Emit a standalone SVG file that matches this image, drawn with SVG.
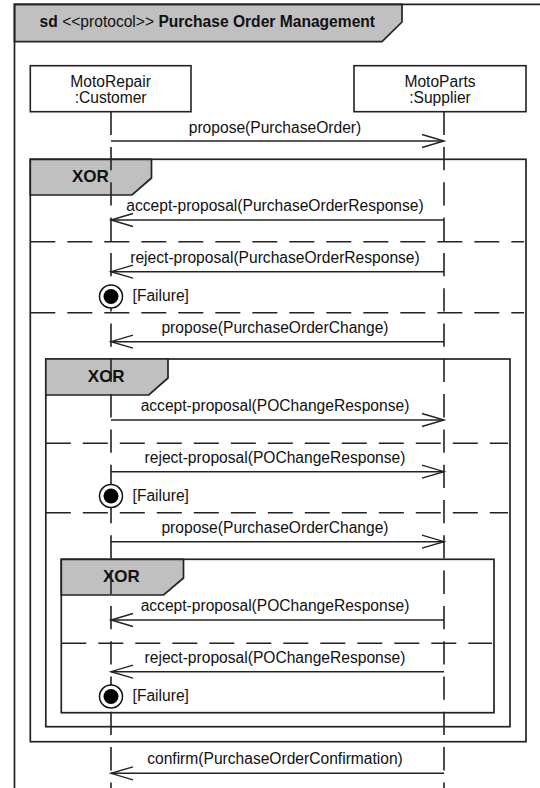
<svg xmlns="http://www.w3.org/2000/svg" width="540" height="788" viewBox="0 0 540 788">
<style>
  .frame{fill:none;stroke:#222;stroke-width:1.7}
  .tab{fill:#c0c0c0;stroke:#222;stroke-width:1.7}
  .box{fill:#fff;stroke:#222;stroke-width:1.6}
  .sep{fill:none;stroke:#222;stroke-width:1.6;stroke-dasharray:25 12}
  .life{fill:none;stroke:#222;stroke-width:1.6;stroke-dasharray:23.3 12}
  .msg{fill:none;stroke:#222;stroke-width:1.4;marker-end:url(#open)}
  .t{font-family:"Liberation Sans",Arial,sans-serif;font-size:15.6px;fill:#111}
  .c{text-anchor:middle}
  .xor{font-family:"Liberation Sans",Arial,sans-serif;font-size:17px;font-weight:bold;fill:#111}
  .b{font-weight:bold}
  .fo{fill:#fff;stroke:#111;stroke-width:1.5}
  .fi{fill:#000}
</style>
<defs>
  <marker id="open" markerWidth="24" markerHeight="16" refX="23" refY="8" orient="auto" markerUnits="userSpaceOnUse" overflow="visible">
    <path d="M1,1.5 L23,8 L1,14.5" fill="none" stroke="#222" stroke-width="1.4"/>
  </marker>
</defs>
<rect width="540" height="788" fill="#fff"/>

<g id="outer-frame">
  <path class="tab" d="M14.5,4.3 H402 V22 L382,41.7 H14.5 Z"/>
  <path class="frame" d="M540,4.3 H14.5 V788"/>
  <text class="t" x="39.6" y="27"><tspan class="b">sd</tspan> &lt;&lt;protocol&gt;&gt; <tspan class="b">Purchase Order Management</tspan></text>
</g>

<g id="xor1">
  <rect class="frame" x="30.3" y="159.3" width="495.7" height="582.4"/>
  <path class="tab" d="M30.3,159.3 H151.5 V178 L132,195 H30.3 Z"/>
  <text class="xor" x="72" y="181.7">XOR</text>
  <line class="sep" x1="30.3" y1="241.7" x2="524" y2="241.7"/>
  <line class="sep" x1="30.3" y1="312.7" x2="524" y2="312.7"/>
</g>

<g id="xor2">
  <rect class="frame" x="45.8" y="359" width="464.2" height="367.7"/>
  <path class="tab" d="M45.8,359 H168 V378 L148.8,395 H45.8 Z"/>
  <text class="xor" x="87.8" y="381.7">XOR</text>
  <line class="sep" x1="45.8" y1="443.3" x2="508" y2="443.3"/>
  <line class="sep" x1="45.8" y1="512.7" x2="508" y2="512.7"/>
</g>

<g id="xor3">
  <rect class="frame" x="61.3" y="559.3" width="432.7" height="153.4"/>
  <path class="tab" d="M61.3,559.3 H183.5 V578 L163.6,595 H61.3 Z"/>
  <text class="xor" x="103" y="581.7">XOR</text>
  <line class="sep" x1="61.3" y1="643.3" x2="492" y2="643.3"/>
</g>

<g id="customer">
  <rect class="box" x="30.3" y="65.7" width="160.7" height="46"/>
  <text class="t c" x="110.6" y="86.5">MotoRepair</text>
  <text class="t c" x="110.6" y="103">:Customer</text>
  <line class="life" x1="111" y1="111.7" x2="111" y2="788"/>
</g>

<g id="supplier">
  <rect class="box" x="354" y="65.7" width="172" height="46"/>
  <text class="t c" x="440" y="86.5">MotoParts</text>
  <text class="t c" x="440" y="103">:Supplier</text>
  <line class="life" x1="444" y1="111.7" x2="444" y2="788"/>
</g>

<g id="failures">
  <circle class="fo" cx="111" cy="296.5" r="11.5"/><circle class="fi" cx="111" cy="296.5" r="7.5"/>
  <text class="t" x="132.6" y="301">[Failure]</text>
  <circle class="fo" cx="111" cy="496" r="11.5"/><circle class="fi" cx="111" cy="496" r="7.5"/>
  <text class="t" x="132.6" y="500.5">[Failure]</text>
  <circle class="fo" cx="111" cy="696.5" r="11.5"/><circle class="fi" cx="111" cy="696.5" r="7.5"/>
  <text class="t" x="132.6" y="701">[Failure]</text>
</g>

<g id="connectors">
  <line class="msg" x1="111" y1="141" x2="444" y2="141"/>
  <text class="t c" x="275" y="133">propose(PurchaseOrder)</text>
  <line class="msg" x1="444" y1="220" x2="111" y2="220"/>
  <text class="t c" x="275" y="211">accept-proposal(PurchaseOrderResponse)</text>
  <line class="msg" x1="444" y1="271.7" x2="111" y2="271.7"/>
  <text class="t c" x="275" y="262.7">reject-proposal(PurchaseOrderResponse)</text>
  <line class="msg" x1="444" y1="341.7" x2="111" y2="341.7"/>
  <text class="t c" x="275" y="332.7">propose(PurchaseOrderChange)</text>
  <line class="msg" x1="111" y1="420" x2="444" y2="420"/>
  <text class="t c" x="275" y="411">accept-proposal(POChangeResponse)</text>
  <line class="msg" x1="111" y1="471.7" x2="444" y2="471.7"/>
  <text class="t c" x="275" y="462.7">reject-proposal(POChangeResponse)</text>
  <line class="msg" x1="111" y1="541.7" x2="444" y2="541.7"/>
  <text class="t c" x="275" y="532.7">propose(PurchaseOrderChange)</text>
  <line class="msg" x1="444" y1="620" x2="111" y2="620"/>
  <text class="t c" x="275" y="611">accept-proposal(POChangeResponse)</text>
  <line class="msg" x1="444" y1="671.7" x2="111" y2="671.7"/>
  <text class="t c" x="275" y="662.7">reject-proposal(POChangeResponse)</text>
  <line class="msg" x1="444" y1="773.3" x2="111" y2="773.3"/>
  <text class="t c" x="275" y="764.3">confirm(PurchaseOrderConfirmation)</text>
</g>
</svg>
